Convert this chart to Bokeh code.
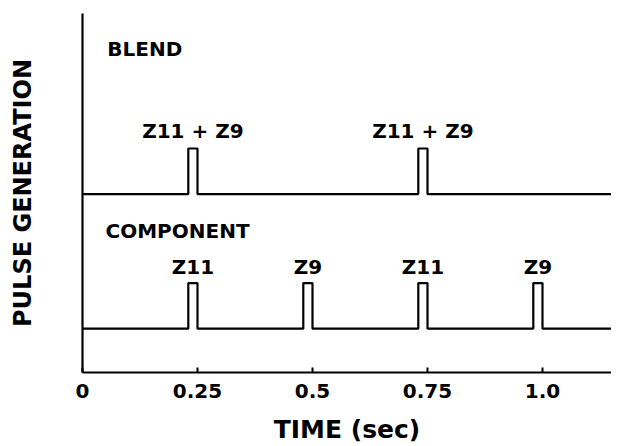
from bokeh.plotting import figure
from bokeh.models import ColumnDataSource, FixedTicker, Range1d
from bokeh.core.properties import value
from bokeh.embed import file_html
from bokeh.resources import INLINE

# ---- data ----
x_ticks = [0, 0.25, 0.5, 0.75, 1.0]
x_tick_labels = ["0", "0.25", "0.5", "0.75", "1.0"]

blend_pulse_start = [0.23, 0.73]
blend_pulse_end = [0.25, 0.75]
blend_pulse_labels = ["Z11 + Z9", "Z11 + Z9"]

comp_pulse_start = [0.23, 0.48, 0.73, 0.98]
comp_pulse_end = [0.25, 0.50, 0.75, 1.00]
comp_pulse_labels = ["Z11", "Z9", "Z11", "Z9"]

blend_base = 4.97
comp_base = 1.22
pulse_height = 1.27
trace_end = 1.2

FONT = "DejaVu Sans"


def step_trace(starts, ends, base, h, end):
    xs, ys = [0.0], [base]
    for s, e in zip(starts, ends):
        xs += [s, s, e, e]
        ys += [base, base + h, base + h, base]
    xs.append(end)
    ys.append(base)
    return xs, ys


p = figure(width=611, height=446, output_backend="svg", toolbar_location=None,
           x_range=Range1d(0, 1.15), y_range=Range1d(0, 10),
           min_border_left=82, min_border_top=13, min_border_right=0,
           min_border_bottom=71)
p.outline_line_color = None
p.xgrid.visible = False
p.ygrid.visible = False
p.background_fill_color = "white"

for starts, ends, base in [(blend_pulse_start, blend_pulse_end, blend_base),
                           (comp_pulse_start, comp_pulse_end, comp_base)]:
    xs, ys = step_trace(starts, ends, base, pulse_height, trace_end)
    p.line(xs, ys, line_color="black", line_width=2.2)

# pulse labels
lab_x = [(s + e) / 2 for s, e in zip(blend_pulse_start, blend_pulse_end)] + \
        [(s + e) / 2 for s, e in zip(comp_pulse_start, comp_pulse_end)]
lab_y = [blend_base + pulse_height + 0.5] * len(blend_pulse_labels) + \
        [comp_base + pulse_height + 0.44] * len(comp_pulse_labels)
src = ColumnDataSource(dict(x=lab_x, y=lab_y, t=blend_pulse_labels + comp_pulse_labels))
p.text(x="x", y="y", text="t", source=src, text_align="center", text_baseline="middle",
       text_font=value(FONT), text_font_style="bold", text_font_size="20px", text_color="black")

# group labels
grp = ColumnDataSource(dict(x=[0.054, 0.05], y=[9.02, 3.95], t=["BLEND", "COMPONENT"]))
p.text(x="x", y="y", text="t", source=grp, text_align="left", text_baseline="middle",
       text_font=value(FONT), text_font_style="bold", text_font_size="20px", text_color="black")

# axes
xa = p.xaxis[0]
xa.ticker = FixedTicker(ticks=x_ticks)
xa.major_label_overrides = {t: l for t, l in zip(x_ticks, x_tick_labels)}
xa.major_tick_in = 5
xa.major_tick_out = 0
xa.minor_tick_in = 0
xa.minor_tick_out = 0
xa.major_tick_line_width = 2
xa.major_tick_line_color = "black"
xa.axis_line_width = 2.2
xa.major_label_text_font = FONT
xa.major_label_text_font_style = "bold"
xa.major_label_text_font_size = "20px"
xa.major_label_text_color = "black"
xa.major_label_standoff = 11
xa.axis_label = "TIME (sec)"
xa.axis_label_text_font = FONT
xa.axis_label_text_font_style = "bold"
xa.axis_label_text_font_size = "25px"
xa.axis_label_text_color = "black"
xa.axis_label_standoff = 14

ya = p.yaxis[0]
ya.major_tick_in = 0
ya.major_tick_out = 0
ya.minor_tick_in = 0
ya.minor_tick_out = 0
ya.major_label_text_font_size = "0px"
ya.major_label_text_color = None
ya.axis_line_width = 2.2
ya.axis_label = "PULSE GENERATION"
ya.axis_label_text_font = FONT
ya.axis_label_text_font_style = "bold"
ya.axis_label_text_font_size = "24px"
ya.axis_label_text_color = "black"
ya.axis_label_standoff = 46

open("out.html", "w").write(file_html(p, INLINE))
